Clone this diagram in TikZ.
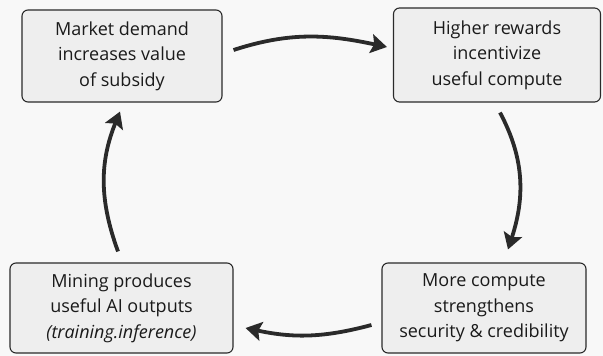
\documentclass[tikz,border=0pt]{standalone}
\usepackage{fontspec}
\setmainfont{Open Sans}
\usetikzlibrary{arrows.meta}
\definecolor{bgc}{HTML}{F8F8F8}
\definecolor{boxc}{HTML}{EEEEEE}
\definecolor{linec}{HTML}{2A2A2A}
\definecolor{txtc}{HTML}{1A1A1A}
\begin{document}
\begin{tikzpicture}[x=1pt,y=-1pt,
  box/.style={draw=linec, line width=1.1pt, fill=boxc, rounded corners=6pt, align=center,
    font=\fontsize{18}{25.5}\selectfont, text=txtc, inner sep=0pt},
  arr/.style={draw=linec, line width=3.8pt, -{Stealth[length=16pt,width=19pt,inset=3pt]}}]
\fill[bgc] (0,0) rectangle (603,356);
\useasboundingbox (0,0) rectangle (603,356);
\node[box, minimum width=200pt, minimum height=92pt] (tl) at (122,56) {Market demand\\increases value\\of subsidy};
\node[box, minimum width=207pt, minimum height=94pt] (tr) at (497,55) {Higher rewards\\incentivize\\useful compute};
\node[box, minimum width=223pt, minimum height=90pt] (bl) at (121.5,308) {Mining produces\\useful AI outputs\\\textit{(training.inference)}};
\node[box, minimum width=204pt, minimum height=90pt] (br) at (484,308) {More compute\\strengthens\\security \& credibility};
\draw[arr] ([xshift=11pt,yshift=6pt]tl.east) to[out=18,in=168] ([xshift=-6pt,yshift=8pt]tr.west);
\draw[arr] ([xshift=3pt,yshift=-10pt]tr.south) to[out=-62,in=72] ([xshift=24pt,yshift=13pt]br.north);
\draw[arr] ([xshift=-10pt,yshift=-17pt]br.west) to[out=195,in=-12] ([xshift=12pt,yshift=-20pt]bl.east);
\draw[arr] ([xshift=-3.5pt,yshift=11pt]bl.north) to[out=110,in=-112] ([xshift=-2pt,yshift=-9pt]tl.south);
\end{tikzpicture}
\end{document}
